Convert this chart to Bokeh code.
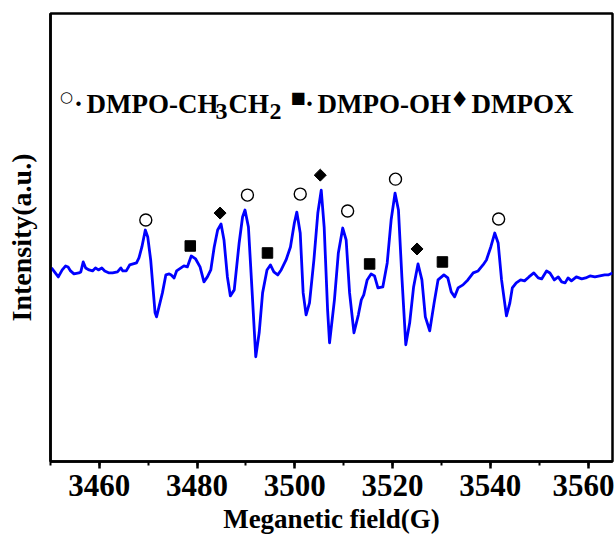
from bokeh.plotting import figure
from bokeh.models import Range1d, SingleIntervalTicker, FixedTicker, Label
from bokeh.embed import file_html
from bokeh.resources import INLINE

# EPR spectrum (field in G, intensity in arbitrary units)
field = [3450.2, 3451.6, 3452.4, 3453.1, 3453.6, 3454.1, 3454.8, 3455.8, 3456.2, 3456.7,
         3457.2, 3457.9, 3458.6, 3459.2, 3459.8, 3460.5, 3461.1, 3462.0, 3462.7, 3463.7,
         3464.4, 3464.8, 3465.5, 3466.2, 3466.9, 3467.6, 3468.1, 3468.7, 3469.4, 3469.9,
         3470.5, 3471.4, 3471.7, 3472.9, 3473.6, 3474.3, 3474.7, 3475.3, 3475.8, 3476.7,
         3477.3, 3478.0, 3478.8, 3479.7, 3480.6, 3481.4, 3482.1, 3482.8, 3483.5, 3484.2,
         3484.9, 3485.5, 3486.2, 3486.8, 3487.6, 3488.6, 3489.3, 3489.8, 3490.5, 3491.2,
         3492.0, 3492.7, 3493.4, 3494.3, 3495.0, 3495.7, 3496.5, 3497.2, 3498.2, 3499.1,
         3499.9, 3500.4, 3501.1, 3501.7, 3502.3, 3503.0, 3503.9, 3504.7, 3505.4, 3506.0,
         3506.7, 3507.1, 3508.1, 3508.9, 3509.8, 3510.5, 3511.2, 3512.1, 3513.0, 3513.6,
         3514.1, 3514.8, 3515.6, 3516.3, 3517.0, 3518.0, 3518.9, 3519.7, 3520.5, 3521.2,
         3521.9, 3522.7, 3523.5, 3524.3, 3525.2, 3526.0, 3526.7, 3527.6, 3528.5, 3529.3,
         3530.5, 3531.3, 3532.0, 3532.7, 3533.4, 3534.4, 3535.4, 3536.5, 3537.5, 3538.5,
         3539.2, 3540.1, 3540.9, 3541.6, 3542.3, 3543.3, 3544.0, 3544.5, 3545.3, 3546.2,
         3547.0, 3547.9, 3548.9, 3549.8, 3550.5, 3551.5, 3552.2, 3553.1, 3553.9, 3554.6,
         3555.3, 3555.9, 3556.6, 3557.6, 3558.7, 3559.5, 3560.4, 3561.4, 3562.4, 3563.4,
         3564.1, 3565.0]
intensity = [2, -7, 0, 4, 3, -1, -4, -3, -2, 8,
             2, 0, -1, 2, 0, 2, -1, -3, -3, -2,
             2, -1, -1, 5, 6, 7, 12, 23, 40, 33,
             10, -43, -47, -23, -5, -4, -5, -8, -1, 2,
             4, 3, 14, 11, 3, -12, -7, 0, 23, 40,
             46, 30, -7, -26, -20, 27, 53, 60, 43, -17,
             -87, -63, -23, 0, 5, -2, -5, 0, 10, 23,
             47, 58, 37, -23, -45, -33, 10, 57, 80, 43,
             -40, -73, -30, 17, 42, 30, -23, -63, -45, -30,
             -25, -10, -4, -6, -18, -17, 7, 50, 77, 60,
             -7, -75, -53, -17, 6, -10, -47, -61, -33, -10,
             -5, -8, -22, -27, -18, -15, -10, -3, -1, 5,
             10, 23, 37, 27, -10, -46, -33, -18, -13, -10,
             -11, -7, -3, -8, -9, -1, -3, -10, -7, -12,
             -13, -8, -11, -7, -9, -8, -6, -7, -6, -5,
             -5, -3]

# peak assignments
ch3ch2_field = [3469.5, 3490.3, 3501.1, 3510.8, 3520.6, 3541.7]
ch3ch2_int = [50, 75, 76, 59, 91, 51]
oh_field = [3478.6, 3494.4, 3515.3, 3530.2]
oh_int = [24, 17, 6, 8]
dmpox_field = [3484.7, 3505.2, 3525.0]
dmpox_int = [57, 95, 21]

x_ticks_interval = 20
x_label = "Meganetic field(G)"
y_label = "Intensity(a.u.)"

FONT = "Liberation Serif"

p = figure(width=614, height=536, x_range=Range1d(3450, 3565), y_range=Range1d(-192, 257),
           output_backend="svg", toolbar_location=None,
           min_border_left=50, min_border_right=2, min_border_top=13, min_border_bottom=74)
p.background_fill_color = "white"
p.border_fill_color = "white"
p.xgrid.visible = False
p.ygrid.visible = False
p.outline_line_color = "black"
p.outline_line_width = 2.5
p.outline_line_alpha = 1

p.line(field, intensity, line_color="#0000FF", line_width=2.8, line_join="round")
p.scatter(ch3ch2_field, ch3ch2_int, marker="circle", size=12, fill_color="white",
          line_color="black", line_width=1.4)
p.scatter(oh_field, oh_int, marker="square", size=10.5, fill_color="black", line_color="black")
p.scatter(dmpox_field, dmpox_int, marker="square", size=8.5, angle=0.785398,
          fill_color="black", line_color="black")

xa = p.xaxis[0]
xa.ticker = SingleIntervalTicker(interval=x_ticks_interval, num_minor_ticks=2)
xa.axis_label = x_label
xa.axis_label_text_font = FONT
xa.axis_label_text_font_style = "bold"
xa.axis_label_text_font_size = "27px"
xa.axis_label_text_line_height = 1.0
xa.axis_label_standoff = 5
xa.major_label_text_font = FONT
xa.major_label_text_font_style = "bold"
xa.major_label_text_font_size = "31px"
xa.major_label_text_line_height = 1.0
xa.major_label_standoff = 6
xa.major_tick_out = 7
xa.major_tick_in = 0
xa.minor_tick_out = 4
xa.minor_tick_in = 0
xa.major_tick_line_width = 2.5
xa.minor_tick_line_width = 2
xa.axis_line_width = 2.5
xa.major_label_text_color = "black"
xa.axis_label_text_color = "black"

ya = p.yaxis[0]
ya.ticker = FixedTicker(ticks=[])
ya.axis_label = y_label
ya.axis_label_text_font = FONT
ya.axis_label_text_font_style = "bold"
ya.axis_label_text_font_size = "28px"
ya.axis_label_text_color = "black"
ya.axis_label_standoff = 14
ya.major_tick_out = 0
ya.major_tick_in = 0
ya.minor_tick_out = 0
ya.minor_tick_in = 0
ya.major_label_standoff = 0
ya.axis_line_width = 2.5

# legend made of text pieces (screen offsets from frame's lower-left corner)
def lab(txt, sx, sy, size, font=FONT, align="left", baseline="alphabetic", bold=True):
    p.add_layout(Label(x=sx, y=sy, x_units="screen", y_units="screen", text=txt,
                       text_font=font, text_font_size=size,
                       text_font_style="bold" if bold else "normal",
                       text_align=align, text_baseline=baseline, text_color="black"))

lab("\u25CB", 16, 365, "15px", font="DejaVu Sans", align="center", baseline="middle", bold=False)
lab("\u00B7", 28, 358, "27px", align="center")
lab("DMPO-CH", 36, 358, "27px")
lab("3", 165, 350, "24px")
lab("CH", 178, 358, "27px")
lab("2", 219, 350, "24px")
lab("\u25A0", 247.5, 364.5, "16px", font="DejaVu Sans", align="center", baseline="middle", bold=False)
lab("\u00B7", 259, 358, "27px", align="center")
lab("DMPO-OH", 267, 358, "27px")
lab("\u2666", 409, 362, "22px", font="DejaVu Sans", align="center", baseline="middle", bold=False)
lab("DMPOX", 421, 358, "27px")

open("out.html", "w").write(file_html(p, INLINE))
